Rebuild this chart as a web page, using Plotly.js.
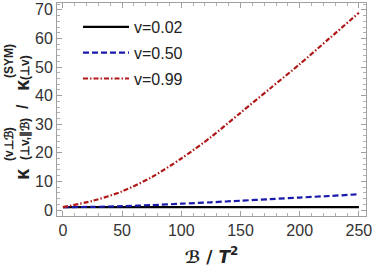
<!DOCTYPE html>
<html>
<head>
<meta charset="utf-8">
<script src="https://cdn.plot.ly/plotly-3.0.1.min.js"></script>
<style>html,body{margin:0;padding:0;background:#fff}#plot{width:374px;height:273px}</style>
</head>
<body>
<div id="plot"></div>
<script>
const B = [0, 25, 50, 75, 100, 125, 150, 175, 200, 225, 250];
const v002 = [1, 1, 1, 1, 1, 1, 1.005, 1.005, 1.01, 1.01, 1.01];
const v050 = [1, 1.1, 1.35, 1.7, 2.2, 2.7, 3.25, 3.8, 4.35, 4.9, 5.5];
const v099 = [1, 3.2, 6.5, 11.5, 18, 25.5, 34, 42.5, 51, 60, 69];
const names = ['v=0.02', 'v=0.50', 'v=0.99'];
const xTicks = [0, 50, 100, 150, 200, 250];
const yTicks = [0, 10, 20, 30, 40, 50, 60, 70];

const W = 374, H = 273, L = 57, R = 8, T = 3, Bm = 57;
const pw = W - L - R, ph = H - T - Bm;
const px = x => (x - L) / pw;
const py = y => (H - Bm - y) / ph;

const traces = [
  {x: B, y: v002, name: names[0], legendgroup: 'a', mode: 'lines', line: {color: '#000000', width: 2.2}},
  {x: B, y: v050, name: names[1], legendgroup: 'b', mode: 'lines', line: {color: '#1a1aaa', width: 2.2, dash: '6px,3px'}},
  {x: B, y: v099, name: names[2], legendgroup: 'c', mode: 'lines', line: {color: '#b01818', width: 2.2, dash: '5px,2px,1.5px,2px'}}
].map(t => Object.assign(t, {line: Object.assign(t.line, {shape: 'spline', smoothing: 0.8})}));

const ff = 'Liberation Sans, Arial, sans-serif';
const axisCommon = {
  showgrid: false, zeroline: false, showline: true, linecolor: '#a0a0a0', linewidth: 1,
  mirror: 'allticks', ticks: 'inside', ticklen: 5, tickcolor: '#a0a0a0', tickwidth: 1,
  tickfont: {family: ff, size: 16, color: '#333333'}
};

function ann(text, x, y, size) {
  return {text: '<b>' + text + '</b>', xref: 'paper', yref: 'paper', x: px(x), y: py(y),
    xanchor: 'center', yanchor: 'middle', showarrow: false, textangle: -90,
    font: {family: ff, size: size, color: '#222222'}};
}

const layout = {
  width: W, height: H,
  margin: {l: L, r: R, t: T, b: Bm},
  paper_bgcolor: '#ffffff', plot_bgcolor: '#ffffff',
  showlegend: true,
  legend: {x: px(78), y: py(10), xanchor: 'left', yanchor: 'top', bgcolor: 'rgba(0,0,0,0)',
    font: {family: ff, size: 16, color: '#222222'}, tracegroupgap: 2, itemwidth: 46},
  xaxis: Object.assign({}, axisCommon, {
    range: [-5, 256], tickvals: xTicks,
    minor: {dtick: 10, ticks: 'inside', ticklen: 3, tickcolor: '#b0b0b0'},
    title: {text: '<b>ℬ / <i>T</i><sup>2</sup></b>', font: {family: 'DejaVu Sans, sans-serif', size: 17, color: '#222222'}, standoff: 12}
  }),
  yaxis: Object.assign({}, axisCommon, {
    range: [-2.1, 72.4], tickvals: yTicks,
    minor: {dtick: 2, ticks: 'inside', ticklen: 3, tickcolor: '#b0b0b0'}
  }),
  annotations: [
    ann('κ', 22, 174, 20),
    ann('(v⊥ℬ)', 9, 144, 12),
    ann('(⊥v,∥ℬ)', 25, 139, 12),
    ann('/', 22, 107, 16),
    ann('κ', 22, 85, 20),
    ann('(⊥v)', 25, 68, 12),
    ann('(SYM)', 9, 61, 12)
  ]
};

Plotly.newPlot('plot', traces, layout, {displayModeBar: false, staticPlot: true});
</script>
</body>
</html>
